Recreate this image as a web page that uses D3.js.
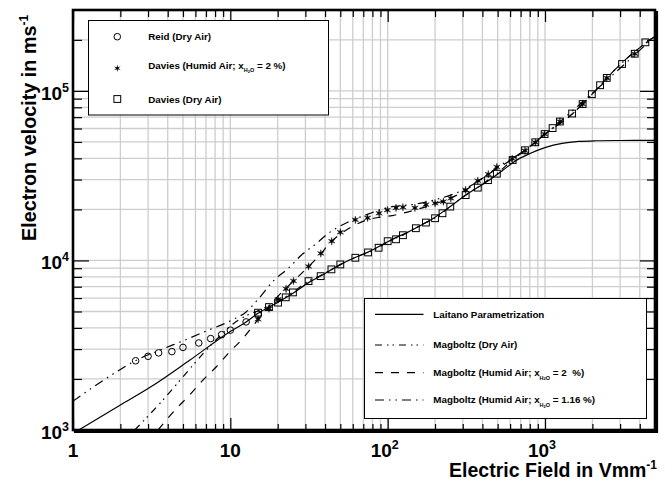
<!DOCTYPE html>
<html><head><meta charset="utf-8">
<script src="https://cdn.jsdelivr.net/npm/d3@7"></script>
<style>
body{margin:0;background:#fff;}
text{font-family:"Liberation Sans",Arial,Helvetica,sans-serif;font-weight:bold;fill:#000;white-space:pre;}
</style></head><body>
<svg id="chart" width="672" height="483"></svg>
<script>
// Measured data (E in V/mm, v in m/s)
const reidE = [2.5, 3, 3.5, 4.25, 5, 6.3, 7.5, 8.8, 10, 12.6, 15];
const reidV = [2560, 2720, 2850, 2900, 3070, 3260, 3460, 3650, 3880, 4340, 4810];

const daviesDryE = [15, 17.6, 20.1, 22.5, 25, 31.4, 37.5, 43.9, 50, 62.3, 75, 87.6, 100, 113, 125, 151, 175, 200, 223, 250, 313, 374, 434, 494, 623, 746, 867, 994, 1117, 1243, 1487, 1734, 1984, 2239, 2469, 3087, 3715, 4345];
const daviesDryV = [4920, 5310, 5640, 6060, 6480, 7550, 8080, 8860, 9470, 10370, 11150, 11880, 12990, 13330, 14090, 15490, 16730, 17740, 18980, 20780, 24290, 26880, 29760, 32490, 39130, 44670, 49770, 55640, 60330, 65980, 73540, 83640, 95630, 108000, 119300, 144100, 165700, 193400];

const daviesHumidE = [15, 17.6, 20.1, 22.6, 25.2, 31.4, 37.6, 44.1, 50, 62.3, 74.5, 88.2, 99.5, 113, 125, 149, 175, 200, 226, 252, 313, 374, 436, 494, 619, 746, 868, 994, 1243, 1734, 2469, 3715];
const daviesHumidV = [4500, 5200, 5900, 6800, 7570, 9220, 11000, 12990, 14670, 17360, 17830, 18980, 19820, 20420, 20590, 20420, 21350, 21740, 22240, 23250, 26060, 29550, 32270, 35580, 39810, 44370, 49630, 55640, 65980, 83640, 119300, 165700];

// Model curves
const laitanoE = [1, 1.108, 1.99, 3.09, 5.54, 10.1, 12.6, 15, 20, 25, 31.4, 37.5, 50, 62, 75, 100, 150, 200, 250, 314, 436, 535, 651, 790, 1009, 1285, 1641, 2094, 3000, 5000];
const laitanoV = [953, 1010, 1400, 1786, 2587, 3835, 4340, 4880, 5650, 6400, 7400, 8100, 9450, 10400, 11200, 12900, 15500, 18000, 20800, 24350, 29550, 33830, 38740, 42420, 46400, 48980, 50330, 50800, 51000, 51100];

const magDryE = [2.47, 3.65, 4.89, 6.64, 8.5, 10.5, 12.5, 15, 17.5, 20, 25, 31.4, 37.5, 44, 50, 62, 75, 88, 100, 125, 150, 175, 200, 250, 313, 374, 434, 494, 620, 745, 1000, 1500, 2000, 3000, 4000, 5000];
const magDryV = [1000, 1470, 2010, 2790, 3550, 4250, 4700, 5050, 5400, 5750, 6500, 7550, 8150, 8850, 9450, 10400, 11150, 11900, 12900, 14100, 15500, 16750, 17800, 20800, 24300, 27000, 29800, 32500, 39100, 44700, 55700, 73500, 96000, 143000, 180000, 210000];

const magHum2E = [3.47, 4.55, 5.52, 6.7, 8.15, 9.9, 12, 14.3, 16, 18.6, 22, 25, 31, 37.5, 43, 50, 62, 75, 90, 107, 150, 200, 250, 310, 380, 450, 500, 620, 750, 1000, 1500, 2000, 3000, 5000];
const magHum2V = [1000, 1340, 1610, 1970, 2360, 2890, 3460, 4240, 4850, 5700, 6700, 7500, 9100, 10900, 12700, 14300, 16200, 17400, 18000, 18400, 19900, 21600, 23300, 25800, 29500, 32800, 35000, 39500, 44500, 55500, 73500, 96000, 143000, 210000];

const magHum116E = [1, 2, 2.53, 3.56, 5.26, 7.04, 10.4, 12.6, 15, 19.1, 23.2, 28.9, 35.1, 41.6, 55.7, 71, 100, 150, 200, 300, 400, 500, 700, 1000, 2000, 5000];
const magHum116V = [1480, 2275, 2580, 2955, 3420, 3840, 4480, 4970, 5900, 7700, 8940, 10950, 12540, 14360, 16800, 18400, 20500, 21500, 22800, 26000, 30500, 35500, 43000, 55500, 97000, 210000];

const xMajor = [1, 10, 100, 1000];
const xMinor = [2,3,4,5,6,7,8,9,20,30,40,50,60,70,80,90,200,300,400,500,600,700,800,900,2000,3000,4000];
const yMajor = [1e3, 1e4, 1e5];
const yMinor = [2e3,3e3,4e3,5e3,6e3,7e3,8e3,9e3,2e4,3e4,4e4,5e4,6e4,7e4,8e4,9e4,2e5];
const xTickLabels = [["1",""],["10",""],["10","2"],["10","3"]];
const yTickLabels = [["10","3"],["10","4"],["10","5"]];

const svg = d3.select("#chart");
const L = 73, R = 655, T = 10, B = 430;
const x = d3.scaleLog().domain([1, 5000]).range([L, R]);
const y = d3.scaleLog().domain([1000, 3e5]).range([B, T]);

// grid
const grid = svg.append("g").attr("stroke", "#cdcdcd").attr("stroke-width", 1.3);
grid.selectAll("line.gx").data(xMajor.slice(1).concat(xMinor)).join("line")
  .attr("x1", d => x(d)).attr("x2", d => x(d)).attr("y1", T).attr("y2", B);
grid.selectAll("line.gy").data(yMajor.slice(1).concat(yMinor)).join("line")
  .attr("y1", d => y(d)).attr("y2", d => y(d)).attr("x1", L).attr("x2", R);

// inward ticks on all four sides
function tickAxis(axisFn, scale, vals, size, tx, ty) {
  const g = svg.append("g").attr("transform", `translate(${tx},${ty})`)
    .call(axisFn(scale).tickValues(vals).tickSize(-size).tickFormat(""));
  g.select(".domain").remove();
  g.selectAll("line").attr("stroke", "#000").attr("stroke-width", 1.2);
}
tickAxis(d3.axisBottom, x, xMajor, 12, 0, B);
tickAxis(d3.axisBottom, x, xMinor, 6, 0, B);
tickAxis(d3.axisTop, x, xMajor, 12, 0, T);
tickAxis(d3.axisTop, x, xMinor, 7, 0, T);
tickAxis(d3.axisLeft, y, yMajor, 16, L, 0);
tickAxis(d3.axisLeft, y, yMinor, 9, L, 0);
tickAxis(d3.axisRight, y, yMajor, 15, R, 0);
tickAxis(d3.axisRight, y, yMinor, 8, R, 0);

// clip region
svg.append("clipPath").attr("id", "plotClip").append("rect")
  .attr("x", L).attr("y", T).attr("width", R - L).attr("height", B - T);
const plot = svg.append("g").attr("clip-path", "url(#plotClip)");

const line = d3.line().x(d => x(d[0])).y(d => y(d[1])).curve(d3.curveMonotoneX);
const zip = (a, b) => a.map((v, i) => [v, b[i]]);

const curves = [
  {E: laitanoE, V: laitanoV, dash: null},
  {E: magDryE, V: magDryV, dash: "7,5,1.5,4,1.5,5"},
  {E: magHum2E, V: magHum2V, dash: "8,8"},
  {E: magHum116E, V: magHum116V, dash: "9,5,1.5,5,1.5,5"}
];
curves.forEach(c => {
  plot.append("path").datum(zip(c.E, c.V)).attr("d", line)
    .attr("fill", "none").attr("stroke", "#000").attr("stroke-width", 1.2)
    .attr("stroke-dasharray", c.dash);
});

// star marker path (6 points)
function starPath(r1, r2) {
  const p = d3.path();
  for (let i = 0; i < 12; i++) {
    const a = -Math.PI / 2 + i * Math.PI / 6;
    const r = i % 2 ? r2 : r1;
    if (i === 0) p.moveTo(r * Math.cos(a), r * Math.sin(a));
    else p.lineTo(r * Math.cos(a), r * Math.sin(a));
  }
  p.closePath();
  return p.toString();
}
const STAR = starPath(3.8, 1.2);

plot.selectAll("circle.reid").data(zip(reidE, reidV)).join("circle")
  .attr("cx", d => x(d[0])).attr("cy", d => y(d[1])).attr("r", 3.3)
  .attr("fill", "none").attr("stroke", "#000").attr("stroke-width", 1);
plot.selectAll("rect.dry").data(zip(daviesDryE, daviesDryV)).join("rect")
  .attr("x", d => x(d[0]) - 3.4).attr("y", d => y(d[1]) - 3.4).attr("width", 6.8).attr("height", 6.8)
  .attr("fill", "none").attr("stroke", "#000").attr("stroke-width", 1);
plot.selectAll("path.hum").data(zip(daviesHumidE, daviesHumidV)).join("path")
  .attr("d", STAR).attr("transform", d => `translate(${x(d[0])},${y(d[1])})`)
  .attr("fill", "#000").attr("stroke", "#000").attr("stroke-width", 0.4);

// frame
svg.append("rect").attr("x", L).attr("y", T).attr("width", R - L).attr("height", B - T)
  .attr("fill", "none").attr("stroke", "#000").attr("stroke-width", 2.6);
svg.append("line").attr("x1", R + 1.6).attr("x2", R + 1.6).attr("y1", T + 1).attr("y2", B + 3)
  .attr("stroke", "#000").attr("stroke-width", 3);
svg.append("line").attr("x1", L + 1).attr("x2", R + 3).attr("y1", B + 1.5).attr("y2", B + 1.5)
  .attr("stroke", "#000").attr("stroke-width", 3);

// tick labels
function powLabel(g, t) {
  g.append("tspan").text(t[0]);
  if (t[1]) g.append("tspan").attr("dy", -8).attr("font-size", 12.5).text(t[1]);
}
xMajor.forEach((v, i) => {
  const t = svg.append("text").attr("x", x(v) - (xTickLabels[i][1] ? 3 : 0)).attr("y", 456.5)
    .attr("text-anchor", "middle").attr("font-size", 19);
  powLabel(t, xTickLabels[i]);
});
yMajor.forEach((v, i) => {
  const t = svg.append("text").attr("x", 69).attr("y", y(v) + 9)
    .attr("text-anchor", "end").attr("font-size", 19);
  powLabel(t, yTickLabels[i]);
});

// axis titles
const xt = svg.append("text").attr("x", 657).attr("y", 477).attr("text-anchor", "end").attr("font-size", 19.5);
xt.append("tspan").text("Electric Field in Vmm");
xt.append("tspan").attr("dy", -8).attr("font-size", 12).text("-1");
const yt = svg.append("text").attr("transform", "translate(36,241) rotate(-90)").attr("font-size", 19.8);
yt.append("tspan").text("Electron velocity in ms");
yt.append("tspan").attr("dy", -8).attr("font-size", 12).text("-1");

// legend text with H2O subscript
function humidText(t, pre, post) {
  t.append("tspan").text(pre);
  t.append("tspan").attr("dy", 3.5).attr("font-size", 5.5).text("H");
  t.append("tspan").attr("dy", 0.8).attr("font-size", 4).text("2");
  t.append("tspan").attr("dy", -0.8).attr("font-size", 5.5).text("O");
  t.append("tspan").attr("dy", -3.5).text(post);
}

// data legend
const lg1 = svg.append("g");
lg1.append("rect").attr("x", 88.5).attr("y", 20.5).attr("width", 240).attr("height", 94.5)
  .attr("fill", "#fff").attr("stroke", "#000").attr("stroke-width", 1);
const fs = 9.8;
lg1.append("circle").attr("cx", 117.3).attr("cy", 36.7).attr("r", 3.3)
  .attr("fill", "none").attr("stroke", "#000");
lg1.append("text").attr("x", 148.3).attr("y", 40).attr("font-size", fs).text("Reid (Dry Air)");
lg1.append("path").attr("d", STAR).attr("transform", "translate(117.3,68.3)").attr("fill", "#000");
humidText(lg1.append("text").attr("x", 148.3).attr("y", 68.5).attr("font-size", fs),
  "Davies (Humid Air; x", " = 2 %)");
lg1.append("rect").attr("x", 113.9).attr("y", 95.6).attr("width", 6.8).attr("height", 6.8)
  .attr("fill", "none").attr("stroke", "#000");
lg1.append("text").attr("x", 148.3).attr("y", 102.5).attr("font-size", fs).text("Davies (Dry Air)");

// model legend
const lg2 = svg.append("g");
lg2.append("rect").attr("x", 364.5).attr("y", 298.5).attr("width", 282).attr("height", 120)
  .attr("fill", "#fff").attr("stroke", "#000").attr("stroke-width", 1);
const rows = [
  {yy: 314.3, dash: null, label: "Laitano Parametrization"},
  {yy: 345, dash: "7,5,1.5,4,1.5,5", label: "Magboltz (Dry Air)"},
  {yy: 372.7, dash: "8,8", pre: "Magboltz (Humid Air; x", post: " = 2  %)"},
  {yy: 400, dash: "9,5,1.5,5,1.5,5", pre: "Magboltz (Humid Air; x", post: " = 1.16 %)"}
];
rows.forEach(r => {
  lg2.append("line").attr("x1", 375).attr("x2", 423.5).attr("y1", r.yy).attr("y2", r.yy)
    .attr("stroke", "#000").attr("stroke-width", 1.2).attr("stroke-dasharray", r.dash);
  const t = lg2.append("text").attr("x", 433.3).attr("y", r.yy + 3.4).attr("font-size", fs);
  if (r.label) t.text(r.label); else humidText(t, r.pre, r.post);
});
</script>
</body></html>
